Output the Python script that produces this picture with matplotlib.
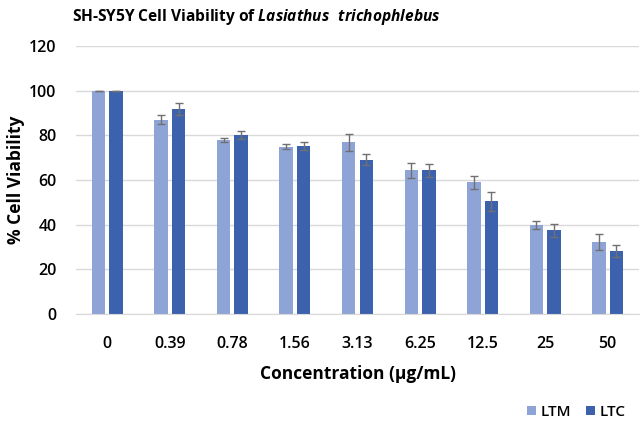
import matplotlib
matplotlib.use("Agg")
import matplotlib.pyplot as plt
import numpy as np

categories = ["0", "0.39", "0.78", "1.56", "3.13", "6.25", "12.5", "25", "50"]
ltm = [100, 87.0, 77.9, 75.0, 76.8, 64.3, 58.9, 39.8, 32.3]
ltm_err = [0, 2.0, 1.1, 1.1, 3.9, 3.4, 2.9, 1.9, 3.6]
ltc = [100, 91.8, 80.3, 75.3, 69.1, 64.3, 50.5, 37.4, 28.3]
ltc_err = [0, 2.6, 1.8, 1.7, 2.6, 2.8, 4.2, 2.9, 2.8]

c_ltm = "#8FA4D6"
c_ltc = "#3C62AE"
font = ["Open Sans", "DejaVu Sans"]
plt.rcParams["font.family"] = font
plt.rcParams["mathtext.fontset"] = "custom"
plt.rcParams["mathtext.it"] = "Open Sans:italic:bold"
plt.rcParams["mathtext.rm"] = "Open Sans:bold"
plt.rcParams["mathtext.bf"] = "Open Sans:bold"

fig = plt.figure(figsize=(6.42, 4.24), dpi=100)
ax = fig.add_axes([76/642, 1 - 314/424, (639-76)/642, (314-46)/424])

x = np.arange(len(categories))
w = 0.215
off = 0.14
ekw = dict(ecolor="#707070", elinewidth=1.0, capsize=3, capthick=1.0)
ax.bar(x - off, ltm, w, color=c_ltm, label="LTM", yerr=ltm_err, error_kw=ekw, zorder=2)
ax.bar(x + off, ltc, w, color=c_ltc, label="LTC", yerr=ltc_err, error_kw=ekw, zorder=2)

ax.set_xlim(-0.5, len(categories) - 0.5)
ax.set_ylim(0, 120)
ax.set_yticks(np.arange(0, 121, 20))
ax.set_xticks(x)
ax.set_xticklabels(categories)
ax.yaxis.grid(True, color="#D9D9D9", linewidth=1.0, zorder=0)
ax.set_axisbelow(True)
for s in ["top", "right", "left"]:
    ax.spines[s].set_visible(False)
ax.spines["bottom"].set_color("#D9D9D9")
ax.tick_params(axis="both", length=0, labelsize=11.5, colors="#000000")
ax.tick_params(axis="x", pad=16)
ax.tick_params(axis="y", pad=14)
for lab in ax.get_xticklabels() + ax.get_yticklabels():
    lab.set_fontweight("semibold")

ax.set_xlabel("Concentration (μg/mL)", fontsize=12.5, fontweight="bold")
ax.xaxis.set_label_coords(0.5, -(365 - 314) / 268)
ax.set_ylabel("% Cell Viability", fontsize=12.5, fontweight="bold")
ax.yaxis.set_label_coords(-(76 - 25) / 563, 0.5)

fig.text(256/642, 1 - 17/424, r"SH-SY5Y Cell Viability of $\it{Lasiathus\ \ trichophlebus}$",
         ha="center", va="center", fontsize=11.2, fontweight="bold")

leg = fig.legend(loc="center right", bbox_to_anchor=(626/642, 1 - 412/424), ncol=2,
                 frameon=False, fontsize=11, handlelength=0.6, handleheight=0.6,
                 handletextpad=0.3, columnspacing=1.0, borderpad=0, borderaxespad=0)
for t in leg.get_texts():
    t.set_fontweight("semibold")

fig.savefig("out.png", dpi=100)
